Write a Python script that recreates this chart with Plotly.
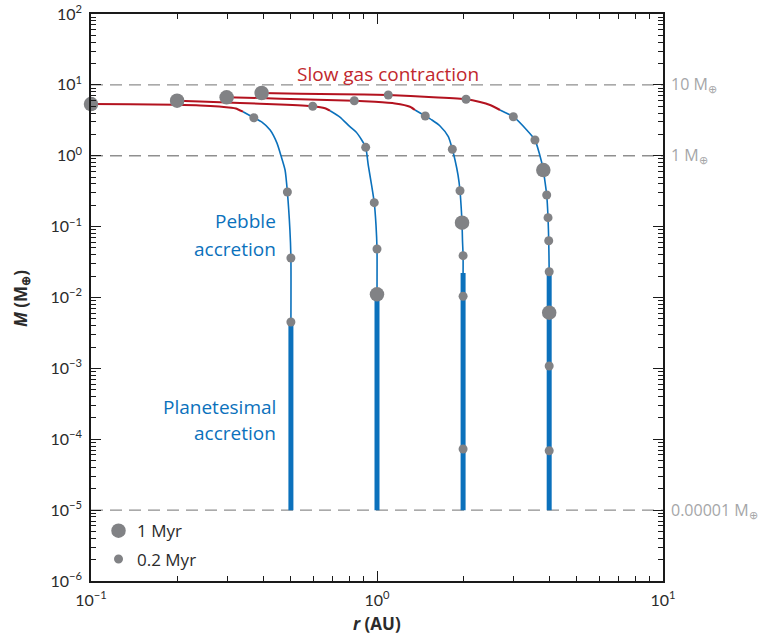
import math
import plotly.graph_objects as go

# ---- data: orbital distance r (AU) and embryo mass M (Earth masses) ----
# Starting orbits of the four embryos
r_start = [0.5, 1.0, 2.0, 4.0]
# Planetesimal accretion: mass range grown in place
planetesimal_m_low = [1e-5, 1e-5, 1e-5, 1e-5]
planetesimal_m_high = [0.0041, 0.0111, 0.0222, 0.0208]

# Pebble accretion branches
pebble_r_a = [0.5, 0.5, 0.496, 0.486, 0.477, 0.462, 0.447, 0.423, 0.396, 0.371, 0.340]
pebble_m_a = [0.0041, 0.0361, 0.0896, 0.308, 0.629, 0.99, 1.51, 2.31, 2.99, 3.44, 4.18]
pebble_r_b = [1.0, 1.0, 0.992, 0.978, 0.957, 0.932, 0.913, 0.884, 0.845, 0.804, 0.742, 0.685]
pebble_m_b = [0.0111, 0.0483, 0.105, 0.218, 0.387, 0.74, 1.315, 1.67, 2.16, 2.57, 3.52, 4.32]
pebble_r_c = [2.0, 2.0, 1.99, 1.983, 1.967, 1.951, 1.920, 1.874, 1.834, 1.776, 1.661, 1.557, 1.475, 1.358]
pebble_m_c = [0.0222, 0.0389, 0.0648, 0.1136, 0.2018, 0.3212, 0.535, 0.871, 1.233, 1.857, 2.63, 3.19, 3.64, 4.42]
pebble_r_d = [4.0, 4.0, 3.985, 3.963, 3.921, 3.868, 3.815, 3.694, 3.567, 3.338, 2.997, 2.803, 2.692]
pebble_m_d = [0.0208, 0.0231, 0.0633, 0.1337, 0.2794, 0.4266, 0.629, 1.083, 1.668, 2.308, 3.556, 4.08, 4.42]

# Slow gas contraction branches
gas_r_a = [0.340, 0.321, 0.310, 0.2405, 0.198, 0.137, 0.1]
gas_m_a = [4.18, 4.64, 4.76, 5.12, 5.23, 5.32, 5.37]
gas_r_b = [0.685, 0.658, 0.596, 0.458, 0.332, 0.2405, 0.2]
gas_m_b = [4.32, 4.67, 4.99, 5.29, 5.55, 5.83, 5.98]
gas_r_c = [1.358, 1.304, 1.156, 0.984, 0.833, 0.538, 0.390, 0.298]
gas_m_c = [4.42, 4.92, 5.46, 5.77, 5.98, 6.26, 6.53, 6.68]
gas_r_d = [2.692, 2.484, 2.292, 2.048, 1.573, 1.095, 0.742, 0.538, 0.395]
gas_m_d = [4.42, 5.2, 5.73, 6.26, 6.68, 7.20, 7.36, 7.48, 7.68]

# Time markers: every 0.2 Myr (small) and every 1 Myr (large)
tick02_r = [0.5, 0.5, 0.486, 0.371,
            1.0, 0.978, 0.913, 0.596,
            2.0, 2.0, 2.0, 1.951, 1.834, 1.475, 0.833,
            4.0, 4.0, 4.0, 3.985, 3.963, 3.921, 3.567, 2.997, 2.048, 1.095]
tick02_m = [0.00451, 0.0361, 0.308, 3.44,
            0.0483, 0.218, 1.315, 4.99,
            7.29e-5, 0.0104, 0.0389, 0.321, 1.233, 3.64, 5.98,
            6.89e-5, 1.08e-3, 0.0231, 0.0633, 0.1337, 0.2794, 1.668, 3.556, 6.26, 7.20]
tick1_r = [0.1, 1.0, 0.2, 1.983, 0.298, 4.0, 3.815, 0.395]
tick1_m = [5.37, 0.0111, 5.98, 0.1136, 6.68, 6.1e-3, 0.629, 7.68]

# Reference mass levels
ref_levels = [10, 1, 1e-5]
ref_labels = ["10 M<sub>⊕</sub>", "1 M<sub>⊕</sub>", "0.00001 M<sub>⊕</sub>"]

# Axis tick labels
x_tickvals = [0.1, 1, 10]
x_ticktext = ["10<sup>−1</sup>", "10<sup>0</sup>", "10<sup>1</sup>"]
y_tickvals = [1e-6, 1e-5, 1e-4, 1e-3, 1e-2, 1e-1, 1, 10, 100]
y_ticktext = ["10<sup>−6</sup>", "10<sup>−5</sup>", "10<sup>−4</sup>", "10<sup>−3</sup>",
              "10<sup>−2</sup>", "10<sup>−1</sup>", "10<sup>0</sup>", "10<sup>1</sup>",
              "10<sup>2</sup>"]

# ---- styles ----
BLUE = "#0b71bc"
RED = "#b3121f"
RED_TEXT = "#c1272d"
DOT = "#818285"
GREY_LINE = "#8f8f8f"
GREY_TEXT = "#a5a6a8"
INK = "#2b2b2b"
FONT = "Lato"
LABEL_FONT = "Open Sans"

fig = go.Figure()

# dashed reference levels
for lvl in ref_levels:
    fig.add_trace(go.Scatter(x=[0.1, 10], y=[lvl, lvl], mode="lines",
                             line=dict(color=GREY_LINE, width=1.3, dash="12px,7px"),
                             hoverinfo="skip", showlegend=False))

# planetesimal accretion (thick vertical segments)
for r0, lo, hi in zip(r_start, planetesimal_m_low, planetesimal_m_high):
    fig.add_trace(go.Scatter(x=[r0, r0], y=[lo, hi], mode="lines",
                             line=dict(color=BLUE, width=5),
                             showlegend=False))

# pebble accretion (thin blue curves)
for rr, mm in [(pebble_r_a, pebble_m_a), (pebble_r_b, pebble_m_b),
               (pebble_r_c, pebble_m_c), (pebble_r_d, pebble_m_d)]:
    fig.add_trace(go.Scatter(x=rr, y=mm, mode="lines",
                             line=dict(color=BLUE, width=1.6, shape="spline", smoothing=0.6),
                             showlegend=False))

# slow gas contraction (red curves)
for rr, mm in [(gas_r_a, gas_m_a), (gas_r_b, gas_m_b),
               (gas_r_c, gas_m_c), (gas_r_d, gas_m_d)]:
    fig.add_trace(go.Scatter(x=rr, y=mm, mode="lines",
                             line=dict(color=RED, width=2, shape="spline", smoothing=0.5),
                             showlegend=False))

# time markers
fig.add_trace(go.Scatter(x=tick02_r, y=tick02_m, mode="markers",
                         marker=dict(color=DOT, size=9, line=dict(width=0)),
                         cliponaxis=False, name="0.2 Myr", showlegend=False))
fig.add_trace(go.Scatter(x=tick1_r, y=tick1_m, mode="markers",
                         marker=dict(color=DOT, size=14.5, line=dict(width=0)),
                         cliponaxis=False, name="1 Myr", showlegend=False))

annotations = []
# reference level labels on the right
for lvl, txt in zip(ref_levels, ref_labels):
    annotations.append(dict(xref="paper", yref="y", x=1.0105, y=math.log10(lvl),
                            text=txt, showarrow=False, xanchor="left", yanchor="middle",
                            font=dict(family=LABEL_FONT, size=16, color=GREY_TEXT)))

# phase labels
annotations += [
    dict(xref="paper", yref="paper", x=0.5192, y=0.8942, text="Slow gas contraction",
         showarrow=False, xanchor="center", yanchor="middle",
         font=dict(family=LABEL_FONT, size=19, color=RED_TEXT)),
    dict(xref="paper", yref="paper", x=0.3269, y=0.6349, text="Pebble",
         showarrow=False, xanchor="right", yanchor="middle",
         font=dict(family=LABEL_FONT, size=19, color=BLUE)),
    dict(xref="paper", yref="paper", x=0.3269, y=0.5855, text="accretion",
         showarrow=False, xanchor="right", yanchor="middle",
         font=dict(family=LABEL_FONT, size=19, color=BLUE)),
    dict(xref="paper", yref="paper", x=0.3269, y=0.3069, text="Planetesimal",
         showarrow=False, xanchor="right", yanchor="middle",
         font=dict(family=LABEL_FONT, size=19, color=BLUE)),
    dict(xref="paper", yref="paper", x=0.3269, y=0.2610, text="accretion",
         showarrow=False, xanchor="right", yanchor="middle",
         font=dict(family=LABEL_FONT, size=19, color=BLUE)),
]

# key
annotations += [
    dict(xref="paper", yref="paper", x=0.0769, y=0.0887, text="1 Myr",
         showarrow=False, xanchor="left", yanchor="middle",
         font=dict(family=LABEL_FONT, size=17, color=INK)),
    dict(xref="paper", yref="paper", x=0.0769, y=0.0388, text="0.2 Myr",
         showarrow=False, xanchor="left", yanchor="middle",
         font=dict(family=LABEL_FONT, size=17, color=INK)),
]

# axis titles
annotations += [
    dict(xref="paper", yref="paper", x=0.5, y=-0.0741, text="<b><i>r</i> (AU)</b>",
         showarrow=False, xanchor="center", yanchor="middle",
         font=dict(family=LABEL_FONT, size=17, color=INK)),
    dict(xref="paper", yref="paper", x=-0.1224, y=0.499, text="<b><i>M</i> (M<sub>⊕</sub>)</b>",
         showarrow=False, xanchor="center", yanchor="middle", textangle=-90,
         font=dict(family=LABEL_FONT, size=17, color=INK)),
]

shapes = [
    dict(type="circle", xref="paper", yref="paper", xsizemode="pixel", ysizemode="pixel",
         xanchor=0.0481, yanchor=0.0887, x0=-7.25, x1=7.25, y0=-7.25, y1=7.25,
         fillcolor=DOT, line=dict(width=0)),
    dict(type="circle", xref="paper", yref="paper", xsizemode="pixel", ysizemode="pixel",
         xanchor=0.0481, yanchor=0.0388, x0=-4.5, x1=4.5, y0=-4.5, y1=4.5,
         fillcolor=DOT, line=dict(width=0)),
]

axis_common = dict(
    type="log", showgrid=False, zeroline=False, automargin=False,
    showline=True, linecolor="#1a1a1a", linewidth=1.5, mirror="allticks",
    ticks="inside", ticklen=10, tickwidth=1.3, tickcolor="#1a1a1a",
    tickfont=dict(family=FONT, size=16, color=INK),
    minor=dict(ticks="inside", ticklen=5, tickwidth=1.1, tickcolor="#1a1a1a",
               dtick="D1", showgrid=False),
)

fig.update_layout(
    width=761, height=635,
    margin=dict(l=91, r=98, t=14, b=54, autoexpand=False),
    paper_bgcolor="white", plot_bgcolor="white",
    showlegend=False,
    xaxis=dict(range=[-1, 1], tickmode="array", tickvals=x_tickvals, ticktext=x_ticktext,
               ticklabelstandoff=4, **axis_common),
    yaxis=dict(range=[-6, 2], tickmode="array", tickvals=y_tickvals, ticktext=y_ticktext,
               ticklabelstandoff=4, **axis_common),
    annotations=annotations,
    shapes=shapes,
)

fig.write_html("out.html")
